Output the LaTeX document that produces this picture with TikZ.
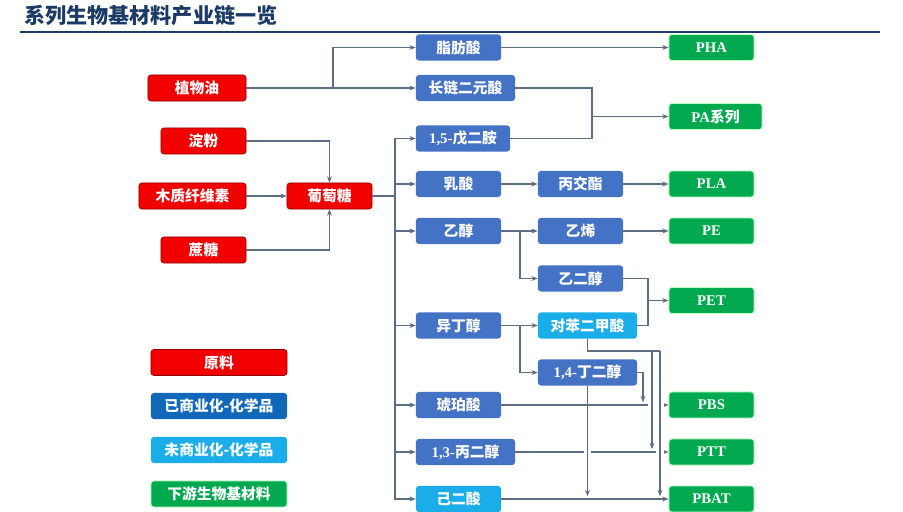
\documentclass[tikz,border=0pt]{standalone}
\usepackage{fontspec}
\setmainfont{Liberation Serif}
\newfontfamily\cjk{Noto Sans CJK SC}
\usetikzlibrary{arrows.meta}
\definecolor{rawred}{HTML}{F20000}
\definecolor{chemblue}{HTML}{4472C4}
\definecolor{newblue}{HTML}{1AADEA}
\definecolor{legblue}{HTML}{1268B8}
\definecolor{prodgreen}{HTML}{00A84F}
\definecolor{linkgray}{HTML}{5E6E82}
\definecolor{navy}{HTML}{1B3A66}

\begin{document}
\begin{tikzpicture}[x=0.025cm, y=-0.025cm,
  box/.style={rounded corners=2pt, text=white, inner sep=0pt, minimum height=0.65cm,
    font=\cjk\bfseries\fontsize{10.5}{12}\selectfont},
  raw/.style={box, fill=rawred, draw=red!55!black, line width=0.4pt, minimum width=#1},
  raw/.default=2.125cm,
  chem/.style={box, fill=chemblue, minimum width=#1},
  chem/.default=2.125cm,
  newchem/.style={box, fill=newblue, minimum width=#1},
  newchem/.default=2.125cm,
  prod/.style={box, fill=prodgreen, draw=green!25, line width=0.6pt, minimum width=#1},
  prod/.default=2.125cm,
  link/.style={draw=linkgray, line width=0.85pt},
  arr/.style={link, -{Stealth[length=4.5pt, width=3.5pt]}},
  gap/.style={draw=white, line width=5pt}]
  \useasboundingbox (0,0) rectangle (903,512);
  \node[anchor=west, inner sep=0pt, text=navy, font=\cjk\bfseries\fontsize{15}{18}\selectfont] (title) at (24,16) {系列生物基材料产业链一览};
  \draw[navy, line width=1.4pt] (20,32) -- (880,32);

  \node[raw=2.45cm] (oil) at (197,88) {植物油};
  \node[raw] (starch) at (203.5,141) {淀粉};
  \node[raw=2.675cm] (ligno) at (192.5,196) {木质纤维素};
  \node[raw] (sucrose) at (203.5,250) {蔗糖};
  \node[raw] (glucose) at (329.5,196) {葡萄糖};

  \node[chem] (fatty) at (458.5,47.5) {脂肪酸};
  \node[chem=2.475cm] (diacid) at (465.5,88) {长链二元酸};
  \node[chem=2.35cm] (pda) at (463,138.5) {\textrm{1,5-}戊二胺};
  \node[chem] (lactic) at (458.5,184) {乳酸};
  \node[chem] (ethanol) at (458.5,231) {乙醇};
  \node[chem] (ibu) at (458.5,325.5) {异丁醇};
  \node[chem] (succ) at (458.5,405) {琥珀酸};
  \node[chem=2.475cm] (pdo) at (465.5,452) {\textrm{1,3-}丙二醇};
  \node[newchem] (adip) at (458.5,499) {己二酸};

  \node[chem] (lactide) at (580.5,184) {丙交酯};
  \node[chem] (ethylene) at (580.5,231) {乙烯};
  \node[chem] (eg) at (580.5,278.5) {乙二醇};
  \node[newchem=2.475cm] (pta) at (587.5,325.5) {对苯二甲酸};
  \node[chem=2.475cm] (bdo) at (587.5,372.5) {\textrm{1,4-}丁二醇};

  \node[prod] (pha) at (711.5,47.5) {\textrm{PHA}};
  \node[prod=2.325cm] (pa) at (715.5,116.5) {\textrm{PA}系列};
  \node[prod] (pla) at (711.5,184) {\textrm{PLA}};
  \node[prod] (pe) at (711.5,231) {\textrm{PE}};
  \node[prod] (pet) at (711.5,300.5) {\textrm{PET}};
  \node[prod] (pbs) at (711.5,405) {\textrm{PBS}};
  \node[prod] (ptt) at (711.5,452) {\textrm{PTT}};
  \node[prod] (pbat) at (711.5,499) {\textrm{PBAT}};

  \node[raw=3.4cm] (lgraw) at (219,362.5) {原料};
  \node[chem=3.4cm, fill=legblue] (lgchem) at (219,406) {已商业化-化学品};
  \node[newchem=3.4cm] (lgnew) at (219,450) {未商业化-化学品};
  \node[prod=3.4cm] (lgprod) at (219,494) {下游生物基材料};

  \coordinate (oiljoin) at (333,88);
  \draw[link] (oil.east) -- (oiljoin);
  \draw[arr] (oiljoin) |- (fatty.west);
  \draw[arr] (oiljoin) -- (diacid.west);
  \draw[arr] (starch.east) -| (glucose.north);
  \draw[arr] (ligno.east) -- (glucose.west);
  \draw[arr] (sucrose.east) -| (glucose.south);
  \coordinate (trunk) at (395,196);
  \draw[link] (glucose.east) -- (trunk);
  \foreach \n in {pda,lactic,ethanol,ibu,succ,pdo,adip}
    \draw[arr] (trunk) |- (\n.west);

  \draw[arr] (fatty.east) -- (pha.west);
  \coordinate (pajoin) at (592,116.5);
  \draw[link] (diacid.east) -| (pajoin);
  \draw[link] (pda.east) -| (pajoin);
  \draw[arr] (pajoin) -- (pa.west);
  \draw[arr] (lactic.east) -- (lactide.west);
  \draw[arr] (lactide.east) -- (pla.west);
  \draw[arr] (ethanol.east) -- (ethylene.west);
  \draw[arr] (ethylene.east) -- (pe.west);
  \coordinate (ethjoin) at (520,231);
  \draw[arr] (ethjoin) |- (eg.west);
  \coordinate (petjoin) at (648,300.5);
  \draw[link] (eg.east) -| (petjoin);
  \draw[link] (pta.east) -| (petjoin);
  \draw[arr] (petjoin) -- (pet.west);
  \draw[arr] (ibu.east) -- (pta.west);
  \coordinate (ibujoin) at (520,325.5);
  \draw[arr] (ibujoin) |- (bdo.west);

  \draw[arr] (succ.east) -- (pbs.west);
  \draw[arr] (pdo.east) -- (ptt.west);
  \draw[arr] (adip.east) -- (pbat.west);

  \draw[gap] (652,357) -- (652,445);
  \draw[gap] (660,357) -- (660,492);
  \draw[gap] (587.5,420) -- (587.5,492);
  \coordinate (ptajoin) at (660,351);
  \coordinate (ptabranch) at (652,351);
  \draw[link] (pta.south) |- (ptajoin);
  \draw[arr, shorten >=2pt] (ptabranch) -- (ptabranch |- ptt.west);
  \draw[arr, shorten >=2pt] (ptajoin) -- (ptajoin |- pbat.west);
  \coordinate (bdojoin) at (643,372.5);
  \draw[arr, shorten >=2pt] (bdo.east) -- (bdojoin) -- (bdojoin |- pbs.west);
  \draw[arr, shorten >=2pt] (bdo.south) -- (bdo.south |- pbat.west);
\end{tikzpicture}
\end{document}
